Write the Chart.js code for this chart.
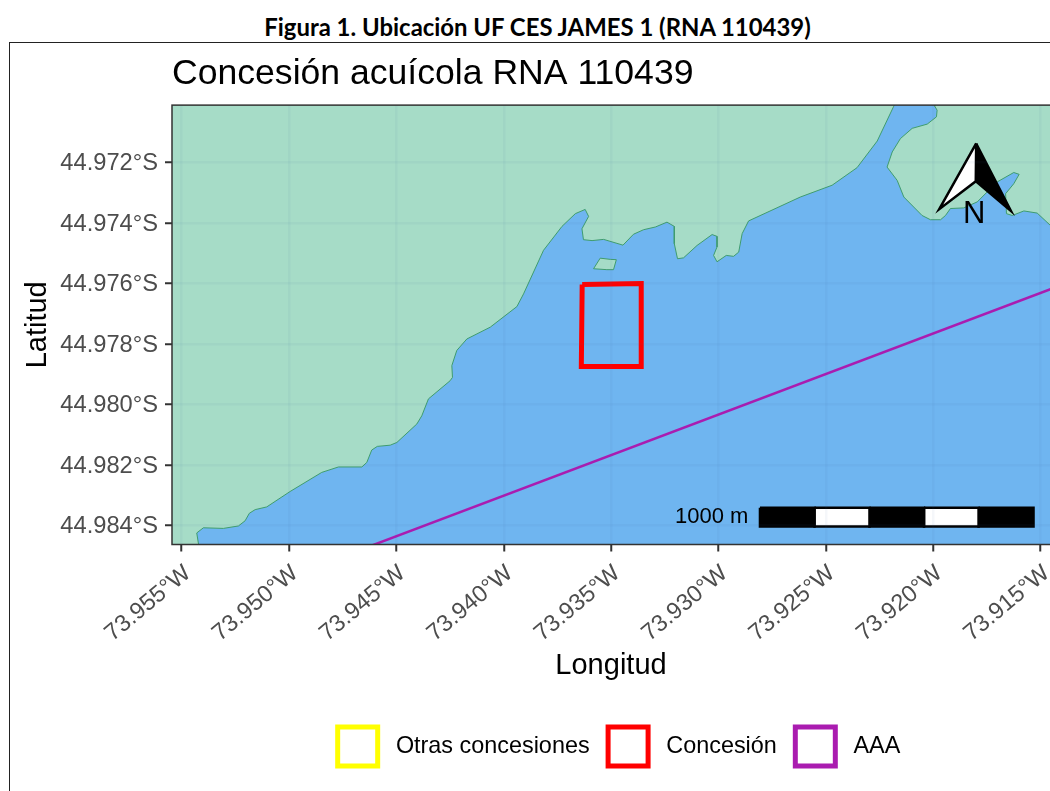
<!DOCTYPE html>
<html lang="es">
<head>
  <meta charset="UTF-8">
  <title>Concesión acuícola RNA 110439</title>
  <script src="https://cdn.jsdelivr.net/npm/chart.js"></script>
  <style>
    html, body { margin: 0; padding: 0; width: 1050px; height: 791px; overflow: hidden; background: #fff; }
    #encabezado { position: absolute; left: 0; top: 12px; width: 1075px; text-align: center; font: bold 23.9px Lato, sans-serif; color: #000; }
    #marco { position: absolute; left: 9px; top: 42px; width: 1100px; height: 800px; border: 1.5px solid #222; }
    #mapa { position: absolute; left: 0; top: 0; }
  </style>
</head>
<body>
  <div id="encabezado">Figura 1. Ubicación UF CES JAMES 1 (RNA 110439)</div>
  <div id="marco"></div>
  <canvas id="mapa" width="1050" height="791"></canvas>

  <script>
    const xTicks = [-73.955, -73.95, -73.945, -73.94, -73.935, -73.93, -73.925, -73.92, -73.915];
    const yTicks = [-44.972, -44.974, -44.976, -44.978, -44.98, -44.982, -44.984];

    // Costa continental, de sur a norte
    const costaLon = [-73.95419, -73.95421, -73.9543, -73.95399, -73.95306, -73.95236, -73.95205, -73.95185, -73.95158, -73.95104,
      -73.94995, -73.94848, -73.9477, -73.94661, -73.94638, -73.94615, -73.94589, -73.94529, -73.94498, -73.94405,
      -73.94382, -73.94351, -73.9425, -73.94239, -73.94242, -73.94219, -73.94172, -73.94063, -73.93939, -73.93908,
      -73.93815, -73.93729, -73.93667, -73.93621, -73.93605, -73.93636, -73.93629, -73.93589, -73.93535, -73.93445,
      -73.93396, -73.93349, -73.93294, -73.9324, -73.93206, -73.93206, -73.93191, -73.93163, -73.931, -73.9303,
      -73.93007, -73.93007, -73.93023, -73.93007, -73.92964, -73.9293, -73.92906, -73.9289, -73.9286, -73.92619,
      -73.92471, -73.92355, -73.92261, -73.92184, -73.92167, -73.92167, -73.96, -73.96, -73.95419];
    const costaLat = [-44.98518, -44.98465, -44.98425, -44.98408, -44.9841, -44.98402, -44.98385, -44.9836, -44.98348, -44.98339,
      -44.98288, -44.98225, -44.98207, -44.98207, -44.98192, -44.98151, -44.98139, -44.98135, -44.98126, -44.98065,
      -44.98038, -44.97982, -44.97922, -44.97911, -44.97872, -44.97822, -44.97784, -44.97745, -44.97677, -44.97635,
      -44.97491, -44.97412, -44.9737, -44.97356, -44.97379, -44.9742, -44.97456, -44.97459, -44.97455, -44.97474,
      -44.97438, -44.97423, -44.97414, -44.97398, -44.97412, -44.97469, -44.97519, -44.97516, -44.97475, -44.97439,
      -44.97445, -44.9748, -44.97508, -44.97529, -44.97508, -44.97511, -44.97497, -44.97436, -44.97394, -44.97315,
      -44.97276, -44.97218, -44.9713, -44.97015, -44.96988, -44.969, -44.969, -44.98518, -44.98518];

    // Península al este
    const esteLon = [-73.91994, -73.91993, -73.91982, -73.91985, -73.92028, -73.92098, -73.92153, -73.92191, -73.92215, -73.92168,
      -73.92137, -73.92052, -73.92013, -73.91966, -73.91943, -73.9192, -73.91858, -73.91795, -73.91702, -73.91625,
      -73.916, -73.91625, -73.91663, -73.91659, -73.91632, -73.91578, -73.91516, -73.91454, -73.91379, -73.91291,
      -73.91291, -73.91994, -73.91994];
    const esteLat = [-44.96978, -44.97015, -44.97028, -44.9705, -44.97074, -44.97088, -44.97122, -44.97166, -44.97216, -44.9726,
      -44.97315, -44.97376, -44.9739, -44.9739, -44.97376, -44.97353, -44.97351, -44.97331, -44.97265, -44.97234,
      -44.9724, -44.97271, -44.97304, -44.9737, -44.97376, -44.97361, -44.97368, -44.97409, -44.97452, -44.97498,
      -44.969, -44.969, -44.96978];

    const isloteLon = [-73.93582, -73.93551, -73.93504, -73.93476, -73.93489, -73.9352, -73.93582];
    const isloteLat = [-44.97552, -44.97517, -44.97521, -44.97522, -44.97555, -44.97555, -44.97552];

    const concesionLon = [-73.93635, -73.9336, -73.9336, -73.93639, -73.93635];
    const concesionLat = [-44.97604, -44.97601, -44.97875, -44.97875, -44.97604];

    const aaaLon = [-73.94762, -73.91291];
    const aaaLat = [-44.98506, -44.97576];

    const otrasLon = [];
    const otrasLat = [];

    // Flecha del norte: punta, lado, muesca
    const norteIzqLon = [-73.918, -73.91972, -73.91802, -73.918];
    const norteIzqLat = [-44.97138, -44.97355, -44.97263, -44.97138];
    const norteDerLon = [-73.918, -73.91638, -73.91802, -73.918];
    const norteDerLat = [-44.97138, -44.97361, -44.97263, -44.97138];
    const norteTextoLon = -73.91809;
    const norteTextoLat = -44.97372;

    // Barra de escala
    const escalaLon = [-73.92807, -73.92553, -73.92297, -73.92043, -73.91789, -73.91533];
    const escalaLat = [-44.98342, -44.98404];
    const escalaTextoLon = -73.92861;
    const escalaTextoLat = -44.98372;
    const escalaTexto = '1000 m';

    const legendNames = ['Otras concesiones', 'Concesión', 'AAA'];
    const legendColors = ['#FFFF00', '#FF0000', '#AA1CB0'];

    const FUENTE = '"Liberation Sans", Arial, sans-serif';
    const COLOR_AGUA = '#6FB5F0';
    const COLOR_TIERRA = '#A6DCC7';
    const COLOR_COSTA = '#3F9C6E';
    const COLOR_GRILLA = 'rgba(50,100,160,0.05)';

    function puntos(lon, lat) {
      return lon.map((v, i) => ({ x: v, y: lat[i] }));
    }

    function capa(label, lon, lat, borde, ancho, relleno) {
      return {
        label: label,
        data: puntos(lon, lat),
        showLine: true,
        fill: false,
        tension: 0,
        pointRadius: 0,
        borderColor: borde,
        borderWidth: ancho,
        borderJoinStyle: 'miter',
        relleno: relleno
      };
    }

    // Segmentos de la barra de escala, alternando negro y blanco
    const capasEscala = escalaLon.slice(0, -1).map((v, i) => capa(
      'Escala ' + (i + 1),
      [v, escalaLon[i + 1], escalaLon[i + 1], v, v],
      [escalaLat[0], escalaLat[0], escalaLat[1], escalaLat[1], escalaLat[0]],
      '#000', 2.5, i % 2 === 0 ? '#000' : '#fff'
    ));

    const plugins = [{
      id: 'panelMapa',
      afterLayout(chart) {
        chart.legend.left += 16; // la leyenda va un poco a la derecha del centro
      },
      beforeDraw(chart) {
        const { ctx, chartArea: a } = chart;
        ctx.save();
        ctx.fillStyle = COLOR_AGUA;
        ctx.fillRect(a.left, a.top, a.right - a.left, a.bottom - a.top);
        ctx.restore();
      },
      beforeDatasetDraw(chart, args) {
        const relleno = chart.data.datasets[args.index].relleno;
        const pts = args.meta.data;
        if (!relleno || !pts.length) return;
        const { ctx, chartArea: a } = chart;
        ctx.save();
        ctx.beginPath();
        ctx.rect(a.left, a.top, a.right - a.left, a.bottom - a.top);
        ctx.clip();
        ctx.beginPath();
        pts.forEach((p, i) => i ? ctx.lineTo(p.x, p.y) : ctx.moveTo(p.x, p.y));
        ctx.closePath();
        ctx.fillStyle = relleno;
        ctx.fill();
        ctx.restore();
      },
      afterDraw(chart) {
        const { ctx, chartArea: a, scales } = chart;
        ctx.save();
        ctx.strokeStyle = '#333';
        ctx.lineWidth = 1.5;
        ctx.strokeRect(a.left, a.top, a.right - a.left + 10, a.bottom - a.top);
        ctx.fillStyle = '#000';
        ctx.textBaseline = 'middle';
        ctx.textAlign = 'center';
        ctx.font = '31px ' + FUENTE;
        ctx.fillText('N', scales.x.getPixelForValue(norteTextoLon), scales.y.getPixelForValue(norteTextoLat));
        ctx.textAlign = 'right';
        ctx.font = '22px ' + FUENTE;
        ctx.fillText(escalaTexto, scales.x.getPixelForValue(escalaTextoLon), scales.y.getPixelForValue(escalaTextoLat));
        ctx.restore();
      }
    }];

    new Chart(document.getElementById('mapa'), {
      type: 'scatter',
      data: {
        datasets: [
          capa('Norte izq', norteIzqLon, norteIzqLat, '#000', 2.5, '#fff'),
          capa('Norte der', norteDerLon, norteDerLat, '#000', 2.5, '#000'),
          ...capasEscala,
          capa(legendNames[1], concesionLon, concesionLat, legendColors[1], 5),
          capa(legendNames[2], aaaLon, aaaLat, legendColors[2], 2.5),
          capa(legendNames[0], otrasLon, otrasLat, legendColors[0], 5),
          capa('Islote', isloteLon, isloteLat, COLOR_COSTA, 1, COLOR_TIERRA),
          capa('Este', esteLon, esteLat, COLOR_COSTA, 1, COLOR_TIERRA),
          capa('Costa', costaLon, costaLat, COLOR_COSTA, 1, COLOR_TIERRA)
        ]
      },
      plugins: plugins,
      options: {
        responsive: false,
        animation: false,
        events: [],
        layout: { padding: { bottom: 15 } },
        plugins: {
          tooltip: { enabled: false },
          title: {
            display: true,
            text: 'Concesión acuícola RNA 110439',
            align: 'start',
            fullSize: false,
            color: '#000',
            font: { family: FUENTE, size: 35.6, weight: 'normal' },
            padding: { top: 52.7, bottom: 9.7 }
          },
          legend: {
            position: 'bottom',
            fullSize: false,
            labels: {
              color: '#000',
              font: { family: FUENTE, size: 23.4 },
              boxWidth: 40,
              boxHeight: 39,
              padding: 18.5,
              generateLabels: () => legendNames.map((n, i) => ({
                text: ' ' + n,
                fillStyle: '#fff',
                strokeStyle: legendColors[i],
                lineWidth: 5,
                hidden: false
              }))
            }
          }
        },
        scales: {
          x: {
            type: 'linear',
            min: -73.955452,
            max: -73.914563,
            afterBuildTicks: s => { s.ticks = xTicks.map(v => ({ value: v })); },
            afterFit: s => { s.height = 164; s.paddingLeft = 0; s.paddingRight = 0; },
            border: { display: false },
            grid: { z: 1, color: COLOR_GRILLA, lineWidth: 2.5, tickColor: '#333', tickLength: 7, tickWidth: 2 },
            ticks: {
              color: '#4D4D4D',
              font: { family: FUENTE, size: 23.5 },
              padding: 8,
              labelOffset: 6,
              autoSkip: false,
              minRotation: 40,
              maxRotation: 40,
              callback: v => Math.abs(v).toFixed(3) + '°W'
            },
            title: {
              display: true,
              text: 'Longitud',
              color: '#000',
              font: { family: FUENTE, size: 29 },
              padding: { top: 0, bottom: 25.6 }
            }
          },
          y: {
            type: 'linear',
            min: -44.984632,
            max: -44.970113,
            afterBuildTicks: s => { s.ticks = yTicks.map(v => ({ value: v })); },
            afterFit: s => { s.width = 172; s.paddingTop = 0; s.paddingBottom = 0; },
            border: { display: false },
            grid: { z: 1, color: COLOR_GRILLA, lineWidth: 2.5, tickColor: '#333', tickLength: 7, tickWidth: 2 },
            ticks: {
              color: '#4D4D4D',
              font: { family: FUENTE, size: 23.7 },
              padding: 7,
              labelOffset: 1.5,
              autoSkip: false,
              callback: v => Math.abs(v).toFixed(3) + '°S'
            },
            title: {
              display: true,
              text: 'Latitud',
              color: '#000',
              font: { family: FUENTE, size: 29 },
              padding: { top: 20.6, bottom: 0 }
            }
          }
        }
      }
    });
  </script>
</body>
</html>
